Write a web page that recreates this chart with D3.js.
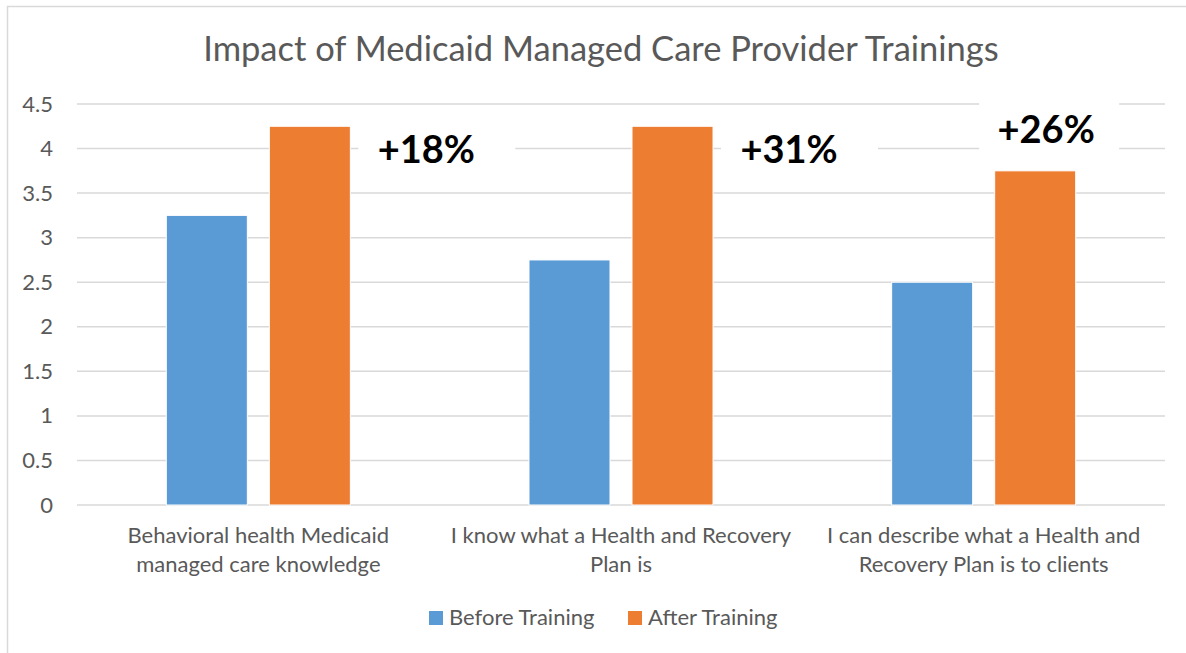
<html>
<head>
<script src='https://d3js.org/d3.v7.min.js'></script>
<style>
  body { margin: 0; background: #fff; }
  text { font-family: Lato, 'Open Sans', sans-serif; fill: #595959; }
</style>
</head>
<body onload='init()'>
<svg width=1186 height=653></svg>
<script>

// data
const categories = [
  'Behavioral health Medicaid managed care knowledge',
  'I know what a Health and Recovery Plan is',
  'I can describe what a Health and Recovery Plan is to clients'
];
const categoryLines = [
  ['Behavioral health Medicaid', 'managed care knowledge'],
  ['I know what a Health and Recovery', 'Plan is'],
  ['I can describe what a Health and', 'Recovery Plan is to clients']
];
const seriesNames = ['Before Training', 'After Training'];
const beforeValues = [3.25, 2.75, 2.5];
const afterValues = [4.25, 4.25, 3.75];
const changeLabels = ['+18%', '+31%', '+26%'];
const changeAnchor = [3.84, 3.84, 4.06];   // y value of label baseline
const yTicks = [0, 0.5, 1, 1.5, 2, 2.5, 3, 3.5, 4, 4.5];
const colors = ['#5B9BD5', '#ED7D31'];

function init() {
	const svg = d3.select('svg');

	// chart frame
	svg.append('rect').attr('x', 7.5).attr('y', 6.5).attr('width', 1200).attr('height', 700)
		.attr('fill', 'none').attr('stroke', '#d9d9d9').attr('stroke-width', 1.5);

	svg.append('text').attr('x', 601).attr('y', 61).attr('text-anchor', 'middle')
		.style('font-size', '34.5px').text('Impact of Medicaid Managed Care Provider Trainings');

	var y = d3.scaleLinear().domain([0, 4.5]).range([505, 104]);
	var x0 = d3.scaleBand().domain(categories).range([77, 1165]);
	var x1 = d3.scaleBand().domain(seriesNames).range([0, x0.bandwidth()])
		.paddingInner(0.2136).paddingOuter(0.867);

	// gridlines
	svg.append('g').selectAll('line').data(yTicks).enter().append('line')
		.attr('x1', 77).attr('x2', 1165)
		.attr('y1', d => y(d)).attr('y2', d => y(d))
		.attr('stroke', '#d9d9d9').attr('stroke-width', 1.5);

	// y axis labels
	var yAxis = svg.append('g').attr('transform', 'translate(60,0)')
		.call(d3.axisLeft(y).tickValues(yTicks).tickSize(0).tickPadding(7).tickFormat(d3.format('~g')));
	yAxis.select('.domain').remove();
	yAxis.selectAll('text').style('font-size', '22px').attr('fill', '#595959')
		.style('font-family', 'Lato, sans-serif');

	var rows = categories.map((c, i) => ({cat: c, vals: [beforeValues[i], afterValues[i]]}));

	// bars
	var groups = svg.append('g').selectAll('g').data(rows).enter().append('g')
		.attr('transform', d => 'translate(' + x0(d.cat) + ',0)');
	groups.selectAll('rect').data(d => d.vals.map((v, j) => ({name: seriesNames[j], v: v, j: j})))
		.enter().append('rect')
		.attr('x', d => x1(d.name)).attr('width', x1.bandwidth())
		.attr('y', d => y(d.v)).attr('height', d => y(0) - y(d.v))
		.attr('fill', d => colors[d.j]).attr('stroke', '#fff').attr('stroke-width', 1);

	// category labels
	var cx = d => x0(d) + x0.bandwidth() / 2;
	categories.forEach((c, i) => {
		var t = svg.append('text').attr('x', cx(c)).attr('y', 543).attr('text-anchor', 'middle')
			.style('font-size', '22px');
		categoryLines[i].forEach((ln, k) => {
			t.append('tspan').attr('x', cx(c)).attr('dy', k === 0 ? 0 : 29).text(ln);
		});
	});

	// change annotations: white text boxes sitting over the grid
	categories.forEach((c, i) => {
		var ox = x0(c) + x1('After Training');
		var above = i === 2;
		var tx = above ? ox + x1.bandwidth() / 2 + 11 : ox + x1.bandwidth() + 30 + 46;
		var by = y(changeAnchor[i]);
		svg.append('rect').attr('x', tx - (above ? 67 : 68)).attr('y', by - 48)
			.attr('width', above ? 140 : 157).attr('height', 74).attr('fill', '#fff');
		svg.append('text').attr('x', tx).attr('y', by).attr('text-anchor', 'middle')
			.style('font-size', '38px').style('font-weight', 'bold').style('fill', '#000')
			.text(changeLabels[i]);
	});

	// legend
	var leg = svg.append('g');
	var lx = [429, 628];
	seriesNames.forEach((s, j) => {
		leg.append('rect').attr('x', lx[j]).attr('y', 611).attr('width', 14).attr('height', 14)
			.attr('fill', colors[j]);
		leg.append('text').attr('x', lx[j] + 20).attr('y', 625).style('font-size', '22px').text(s);
	});
}

</script>
</body>
</html>
